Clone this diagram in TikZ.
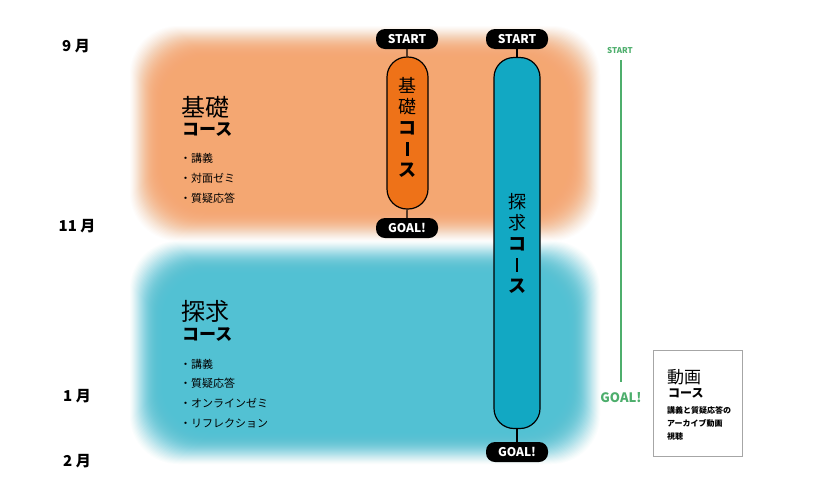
\documentclass[tikz,border=0pt]{standalone}
\usepackage{fontspec}
\newfontfamily\jp{Noto Sans CJK JP}
\setmainfont{Noto Sans CJK JP}
\usetikzlibrary{calc}
\definecolor{bandor}{HTML}{F4A772}
\definecolor{bandtl}{HTML}{52C1D3}
\definecolor{pillor}{HTML}{EE7218}
\definecolor{pilltl}{HTML}{12A8C3}
\definecolor{grn}{HTML}{4DAE6C}
\newcommand{\vbar}{\rule[-0.5pt]{2.2pt}{14pt}}
\tikzset{
  badge/.style={fill=black, text=white, rounded corners=9pt, minimum width=62pt, minimum height=20pt, inner sep=0pt, font=\bfseries\fontsize{12}{12}\selectfont},
  pill/.style={draw=black, line width=1.2pt, rounded corners=20pt, inner sep=0pt},
  month/.style={font=\bfseries\fontsize{15}{15}\selectfont, anchor=center},
  bigt/.style={font=\fontsize{24}{24}\selectfont, anchor=west, inner sep=0pt},
  subt/.style={font=\bfseries\fontsize{17}{17}\selectfont, anchor=west, inner sep=0pt},
  item/.style={font=\fontsize{11}{11}\selectfont, anchor=west, inner sep=0pt},
  vtext/.style={align=center, font=\fontsize{18}{21}\selectfont, inner sep=0pt},
  conn/.style={draw=black, line width=1.2pt},
}
\begin{document}
\begin{tikzpicture}[x=1pt,y=-1pt]
\useasboundingbox (0,0) rectangle (824,496);
\fill[white] (0,0) rectangle (824,496);
% blurred bands
\foreach \i in {0,...,35}{
  \pgfmathsetmacro{\op}{0.025+0.0055*\i}
  \fill[bandor, opacity=\op, rounded corners=48pt] (130+\i,26+\i) rectangle (600-\i,241-\i);
  \fill[bandtl, opacity=\op, rounded corners=48pt] (130+\i,241+\i) rectangle (600-\i,464-\i);
}
% months
\node[month] (m9) at (76,46) {9 月};
\node[month] (m11) at (77,226) {11 月};
\node[month] (m1) at (77,396) {1 月};
\node[month] (m2) at (77,461) {2 月};
% left texts orange
\node[bigt] (kiso) at (181,107) {基礎};
\node[subt] (kisoc) at (182,130) {コース};
\node[item] (k1) at (180,158) {・講義};
\node[item] (k2) at (180,178) {・対面ゼミ};
\node[item] (k3) at (180,198) {・質疑応答};
% left texts teal
\node[bigt] (tan) at (181,311) {探求};
\node[subt] (tanc) at (182,335) {コース};
\node[item] (t1) at (180,364) {・講義};
\node[item] (t2) at (180,383) {・質疑応答};
\node[item] (t3) at (180,403) {・オンラインゼミ};
\node[item] (t4) at (180,423) {・リフレクション};
% orange pill
\node[badge] (s1) at (407,39) {START};
\node[badge] (g1) at (407,228) {GOAL!};
\node[pill, fill=pillor, minimum width=41pt, minimum height=152pt] (p1) at (407.5,133) {};
\draw[conn] (s1) -- (p1);
\draw[conn] (p1) -- (g1);
\node[vtext] (p1t) at (407.5,127) {基\\礎\\\textbf{コ}\\\vbar\\\textbf{ス}};
% teal pill
\node[badge] (s2) at (517,39) {START};
\node[badge] (g2) at (517,452) {GOAL!};
\node[pill, fill=pilltl, minimum width=46pt, minimum height=371pt] (p2) at (517,243) {};
\draw[conn] (s2) -- (p2);
\draw[conn] (p2) -- (g2);
\node[vtext] (p2t) at (517,243) {探\\求\\\textbf{コ}\\\vbar\\\textbf{ス}};
% green line
\node[text=grn, font=\bfseries\fontsize{8}{8}\selectfont, inner sep=0pt] (s3) at (620,51) {START};
\node[text=grn, font=\bfseries\fontsize{13}{13}\selectfont, inner sep=0pt] (g3) at (621,398) {GOAL!};
\coordinate (ga) at (621,60);
\coordinate (gb) at (621,382);
\draw[grn, line width=2pt] (ga) -- (gb);
% box
\node[draw=gray!70, line width=0.8pt, minimum width=89pt, minimum height=106pt, inner sep=0pt] (box) at (697.5,403) {};
\node[font=\fontsize{17}{17}\selectfont, anchor=west, inner sep=0pt] (dg) at (667,377) {動画};
\node[font=\bfseries\fontsize{12}{12}\selectfont, anchor=west, inner sep=0pt] (dgc) at (668,393) {コース};
\node[font=\bfseries\fontsize{8}{13}\selectfont, anchor=north west, align=left, inner sep=0pt] (dgt) at (667,406) {講義と質疑応答の\\アーカイブ動画\\視聴};
\end{tikzpicture}
\end{document}
